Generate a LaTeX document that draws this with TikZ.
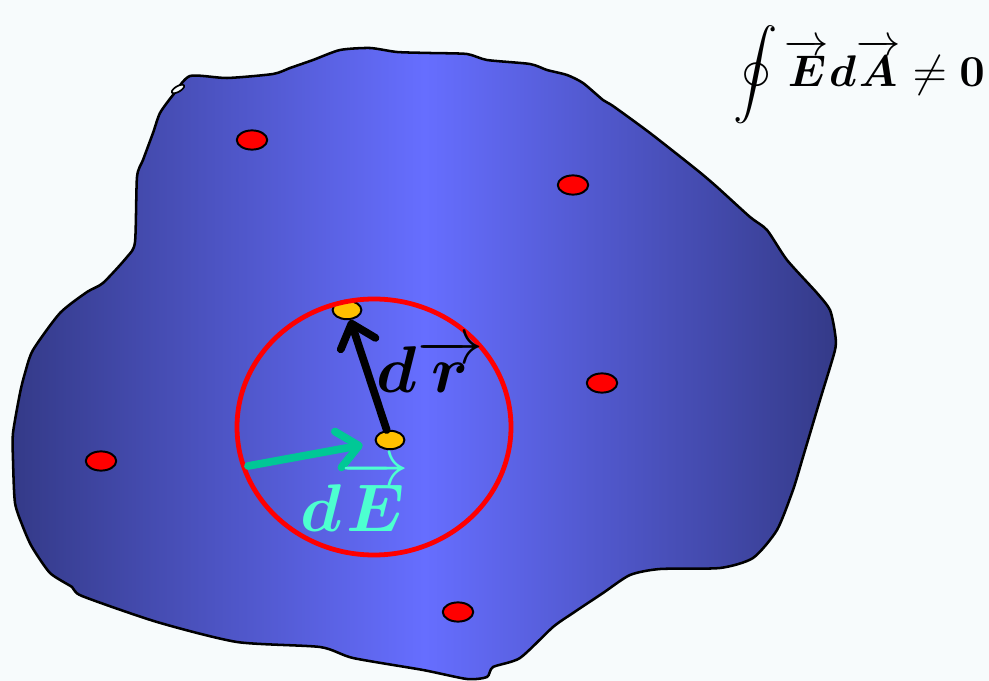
\documentclass[tikz,border=0pt]{standalone}
\usepackage{amsmath,amssymb,bm}
\usepackage{tikz}
\usetikzlibrary{arrows.meta,shapes.geometric}
\definecolor{pagebg}{RGB}{247,251,252}
\definecolor{blobdark}{RGB}{52,58,136}
\definecolor{bloblight}{RGB}{102,110,255}
\definecolor{chargered}{RGB}{255,0,0}
\definecolor{pointgold}{RGB}{255,192,0}
\definecolor{fieldgreen}{RGB}{0,200,150}
\definecolor{labelaqua}{RGB}{77,255,208}

\begin{document}
\begin{tikzpicture}[x=0.025cm,y=-0.025cm,charge/.style={ellipse,draw=black,line width=1.4pt,fill=chargered,minimum width=.76cm,minimum height=.48cm,inner sep=0pt},point/.style={charge,fill=pointgold,minimum width=.72cm,minimum height=.46cm},blob/.style={draw=black,line width=1.8pt,left color=blobdark,right color=blobdark,middle color=bloblight},vecline/.style={line width=5.5pt,line cap=round,-{Straight Barb[length=15pt,width=26pt,round]}},biglabel/.style={inner sep=0pt,transform shape}]
        \fill[pagebg] (0,0) rectangle (989,681);
        \useasboundingbox (0,0) rectangle (989,681);
        \draw[blob] plot[smooth cycle,tension=.4] coordinates {(173,95) (190,76) (227,78) (273,74) (290,68) (313,60) (340,50) (370,48) (397,52) (430,53) (467,54) (487,60) (530,64) (547,70) (567,75) (583,83) (603,100) (613,106) (650,133) (697,170) (717,187) (750,217) (767,230) (787,260) (817,293) (830,310) (835,333) (835,350) (820,400) (803,457) (793,490) (777,530) (753,558) (720,568) (660,569) (630,575) (603,593) (573,613) (553,627) (520,658) (493,667) (487,677) (467,679) (423,670) (353,658) (320,647) (237,642) (157,622) (82,596) (72,587) (50,573) (32,547) (23,527) (15,503) (13,460) (13,433) (20,393) (25,373) (33,350) (60,313) (87,292) (103,283) (127,257) (135,242) (137,177) (143,160) (153,133) (160,113)};
        \node[ellipse,draw,line width=1.2pt,fill=pagebg,rotate=30,minimum width=.35cm,minimum height=.14cm,inner sep=0pt] (curl) at (178,89) {};
        \node[charge] (q1) at (252,140) {};
        \node[charge] (q2) at (573,185) {};
        \node[charge] (q3) at (602,383) {};
        \node[charge] (q4) at (101,461) {};
        \node[charge] (q5) at (458,612) {};
        \node[point] (p1) at (347,310) {};
        \node[point] (p2) at (390,440) {};
        \coordinate (eStart) at (248,466);
        \draw[draw=chargered,line width=3.4pt] (374,427) ellipse [x radius=137,y radius=128];
        \draw[vecline,draw=fieldgreen,shorten >=9pt] (eStart)--(p2);
        \draw[vecline,draw=black] (p2)--(p1);
        \node[biglabel,scale=4.7,text=black] (drlab) at (430,366) {$\bm{d}\overrightarrow{\bm{r}}$};
        \node[biglabel,scale=4.8,text=labelaqua] (delab) at (355,496) {$\bm{d}\overrightarrow{\bm{E}}$};
        \node[biglabel,scale=3.15,text=black] (flux) at (859,75) {$\displaystyle\oint\overrightarrow{\bm{E}}\bm{d}\overrightarrow{\bm{A}}\neq\mathbf{0}$};
      \end{tikzpicture}
\end{document}
